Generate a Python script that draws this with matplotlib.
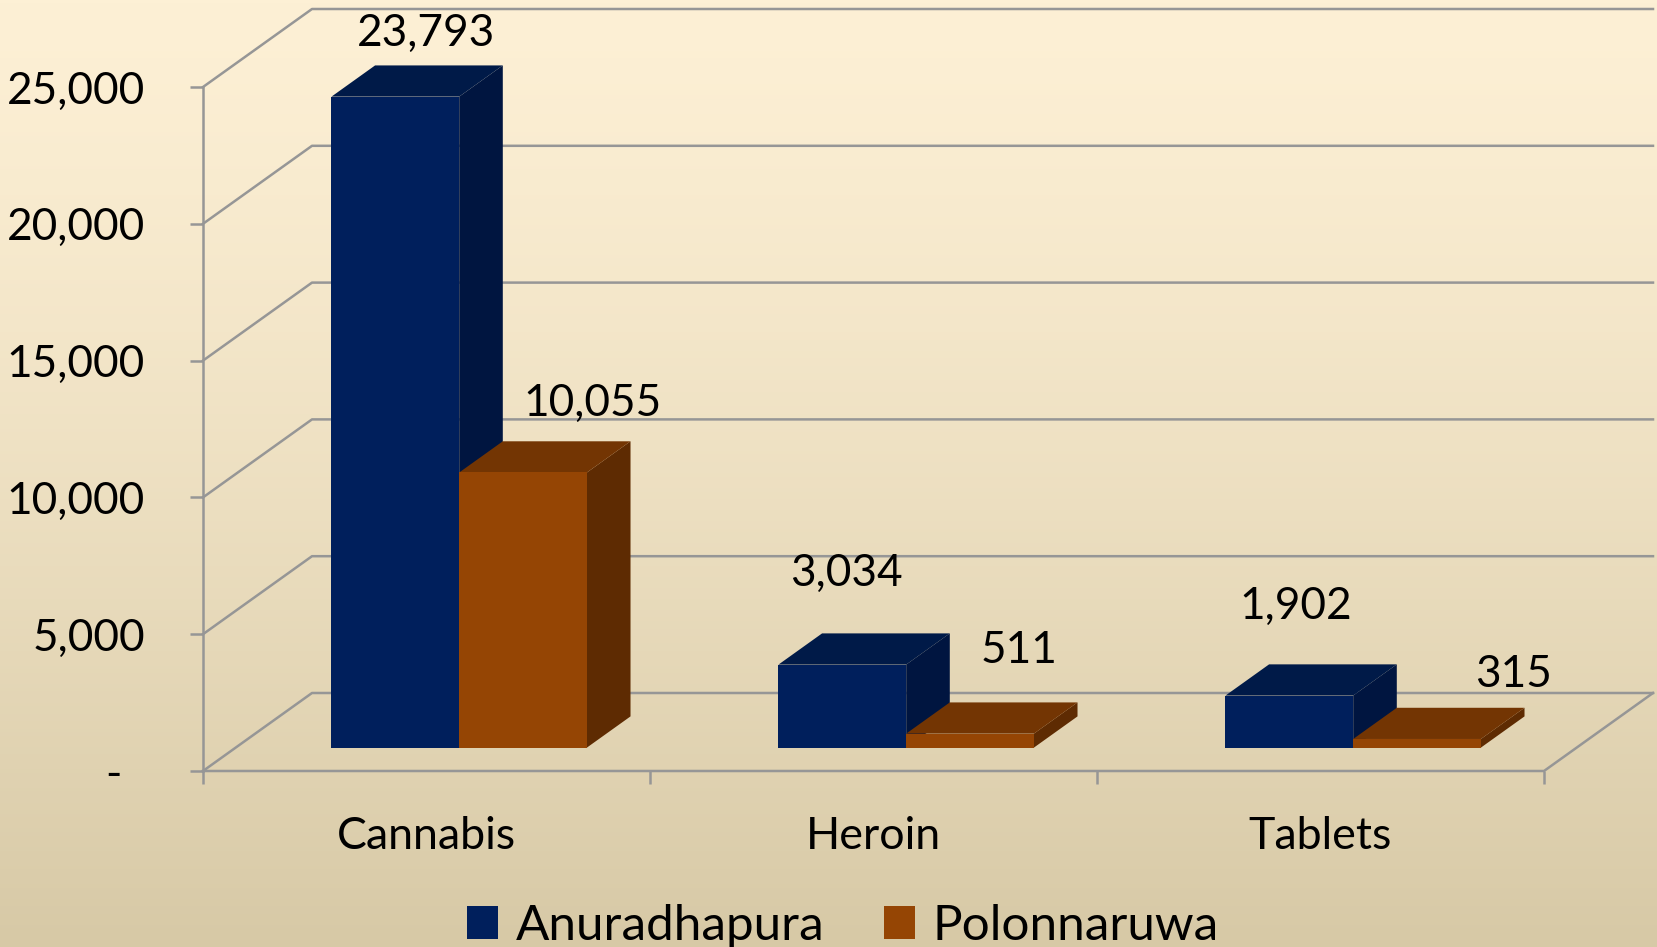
import numpy as np
import matplotlib
matplotlib.use('Agg')
import matplotlib.pyplot as plt
from matplotlib.patches import Polygon, Patch

categories = ['Cannabis', 'Heroin', 'Tablets']
series_names = ['Anuradhapura', 'Polonnaruwa']
anuradhapura = [23793, 3034, 1902]
polonnaruwa = [10055, 511, 315]
y_ticks = [0, 5000, 10000, 15000, 20000, 25000]
y_tick_labels = ['-  ', '5,000', '10,000', '15,000', '20,000', '25,000']

# front, top, side shades per series
shades = [('#001F5C', '#001A48', '#001540'),
          ('#954504', '#733503', '#5E2B02')]
# pixel nudges of the value labels from the centre of each bar top
label_nudge = [[(9, 52), (-18, 80), (-15, 78)],
               [(48, 57), (27, 72), (75, 53)]]

plt.rcParams['font.family'] = ['Lato', 'DejaVu Sans']

W, H = 1658, 947
fig = plt.figure(figsize=(W / 100, H / 100), dpi=100)
renderer = fig.canvas.get_renderer()
PT = fig.dpi / 72.0


def fit_size(text, target_px):
    # font size (pt) that makes text about target_px wide
    t = fig.text(0, 0, text, fontsize=20)
    w = t.get_window_extent(renderer).width
    t.remove()
    return 20 * target_px / w


fs_num = fit_size('25,000', 138)
fs_cat = fit_size('Cannabis', 180)
fs_leg = fit_size('Anuradhapura', 310)

# background gradient
bg = fig.add_axes([0, 0, 1, 1], zorder=-10)
t = np.linspace(0, 1, 256)[:, None, None]
c_top = np.array([253, 240, 213]) / 255
c_bot = np.array([215, 201, 166]) / 255
img = c_top * (1 - t ** 1.3) + c_bot * t ** 1.3
bg.imshow(np.repeat(img, 2, axis=1), aspect='auto', extent=[0, 1, 0, 1])
bg.axis('off')

ax = fig.add_axes([203 / W, 176 / H, 1341 / W, 684 / H])
ax.set_xlim(0, 3)
ax.set_ylim(0, 25000)
ax.patch.set_alpha(0)
for sp in ax.spines.values():
    sp.set_visible(False)

# depth of the box, in data units
px_x = 3 / 1341
px_y = 25000 / 684
wall_dx, wall_dy = 109 * px_x, 78 * px_y

grid_kw = dict(color='#969696', lw=1.8, clip_on=False, zorder=1)
for v in y_ticks:
    ax.plot([0, wall_dx, 3 + wall_dx], [v, v + wall_dy, v + wall_dy], **grid_kw)
ax.plot([0, 0], [0, 25000], **grid_kw)
ax.plot([0, 3, 3 + wall_dx], [0, 0, wall_dy], **grid_kw)

bar_w = 1 / 3.5
fx, fy = 0.3 * wall_dx, 0.3 * wall_dy
bx, by = 0.7 * wall_dx, 0.7 * wall_dy
for i, cat in enumerate(categories):
    for s, vals in enumerate([anuradhapura, polonnaruwa]):
        v = vals[i]
        x0 = i + 0.5 - bar_w + s * bar_w
        x1 = x0 + bar_w
        front, top, side = shades[s]
        ax.add_patch(Polygon([(x1 + fx, fy), (x1 + bx, by), (x1 + bx, v + by), (x1 + fx, v + fy)],
                             closed=True, fc=side, ec='none', clip_on=False, zorder=2))
        ax.add_patch(Polygon([(x0 + fx, v + fy), (x1 + fx, v + fy), (x1 + bx, v + by), (x0 + bx, v + by)],
                             closed=True, fc=top, ec='none', clip_on=False, zorder=2))
        ax.add_patch(Polygon([(x0 + fx, fy), (x1 + fx, fy), (x1 + fx, v + fy), (x0 + fx, v + fy)],
                             closed=True, fc=front, ec='none', clip_on=False, zorder=2))
        ax.annotate(f'{v:,}', xy=((x0 + x1) / 2 + (fx + bx) / 2, v + (fy + by) / 2),
                    xytext=label_nudge[s][i], textcoords='offset pixels',
                    ha='center', va='center_baseline', fontsize=fs_num, color='black',
                    annotation_clip=False, zorder=5)

ax.set_yticks(y_ticks)
ax.set_yticklabels(y_tick_labels)
ax.tick_params(axis='y', length=13 / PT, width=1.8, color='#969696',
               pad=(203 - 13 - 145) / PT, labelsize=fs_num)
ax.set_xticks([0, 1, 2, 3])
ax.set_xticklabels([])
ax.set_xticks([0.5, 1.5, 2.5], minor=True)
ax.set_xticklabels(categories, minor=True)
ax.tick_params(axis='x', which='major', length=13 / PT, width=1.8, color='#969696')
ax.tick_params(axis='x', which='minor', length=0, pad=61 / PT, labelsize=fs_cat)
for lab in ax.get_xticklabels(minor=True):
    lab.set_va('center_baseline')

em = fs_leg * PT
handles = [Patch(fc=shades[0][0], ec='none'), Patch(fc=shades[1][0], ec='none')]
fig.legend(handles, series_names, loc='center', bbox_to_anchor=(843 / W, 21 / H),
           ncol=2, frameon=False, fontsize=fs_leg, handlelength=31 / em, handleheight=33 / em,
           handletextpad=17 / em, columnspacing=60 / em, borderpad=0)

fig.savefig('out.png', dpi=100)
